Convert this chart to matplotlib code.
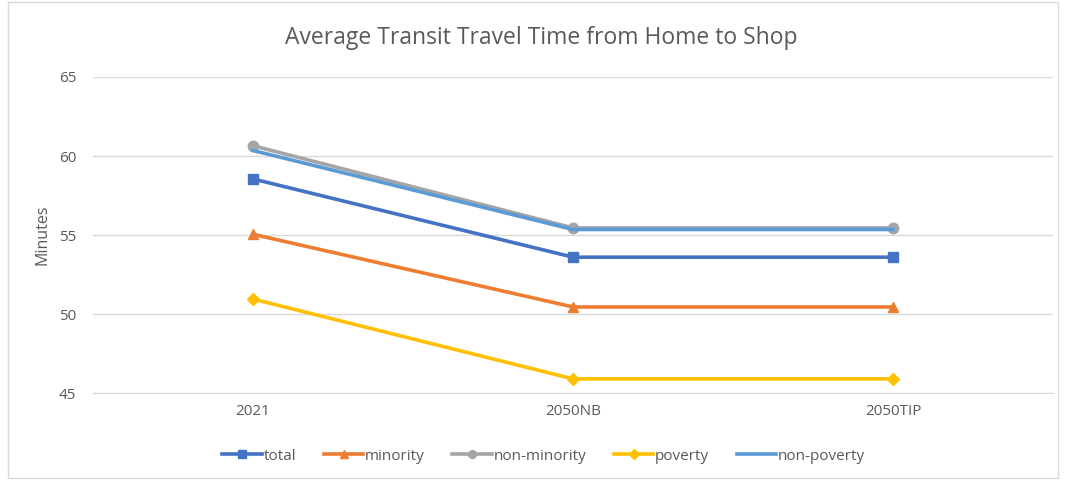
import matplotlib.pyplot as plt
from matplotlib.patches import Rectangle

scenarios = ["2021", "2050NB", "2050TIP"]
total = [58.55, 53.6, 53.6]
minority = [55.05, 50.45, 50.45]
non_minority = [60.65, 55.45, 55.45]
poverty = [50.95, 45.9, 45.9]
non_poverty = [60.35, 55.35, 55.35]

series = [
    ("total", total, "#4472C4", "s"),
    ("minority", minority, "#ED7D31", "^"),
    ("non-minority", non_minority, "#A5A5A5", "o"),
    ("poverty", poverty, "#FFC000", "D"),
    ("non-poverty", non_poverty, "#5B9BD5", None),
]

plt.rcParams["font.family"] = ["Open Sans", "DejaVu Sans"]

fig = plt.figure(figsize=(10.66, 4.8), dpi=100)
ax = fig.add_axes([0.0872, 0.181, 0.9008, 0.6586])

# chart area border
fig.patches.append(Rectangle((8 / 1066, 2 / 480), 1050 / 1066, 476 / 480,
                             transform=fig.transFigure, fill=False,
                             edgecolor="#D9D9D9", linewidth=1))

x = range(len(scenarios))
for name, vals, color, marker in series:
    ms = 6.5 if marker == "D" else 7.5
    ax.plot(x, vals, color=color, linewidth=2.6, marker=marker,
            markersize=ms, label=name)

ax.set_xlim(-0.5, 2.5)
ax.set_ylim(45, 65)
ax.set_yticks([45, 50, 55, 60, 65])
ax.set_xticks(list(x))
ax.set_xticklabels(scenarios)
ax.tick_params(length=0, labelsize=11, colors="#595959", pad=12)
ax.tick_params(axis="x", pad=8)
ax.grid(axis="y", color="#D9D9D9", linewidth=1)
ax.set_axisbelow(True)
for s in ax.spines.values():
    s.set_visible(False)
ax.spines["bottom"].set_visible(True)
ax.spines["bottom"].set_color("#D9D9D9")

ax.set_ylabel("Minutes", fontsize=11.5, color="#595959", labelpad=6)
fig.text(0.508, 0.92, "Average Transit Travel Time from Home to Shop",
         ha="center", va="center", fontsize=16.5, color="#595959")

leg = fig.legend(loc="center", bbox_to_anchor=(0.51, 0.05), ncol=5,
                 frameon=False, fontsize=11, handlelength=2.6,
                 handletextpad=0.1, columnspacing=1.8, markerscale=0.75)
for t in leg.get_texts():
    t.set_color("#595959")

fig.savefig("out.png", dpi=100)
